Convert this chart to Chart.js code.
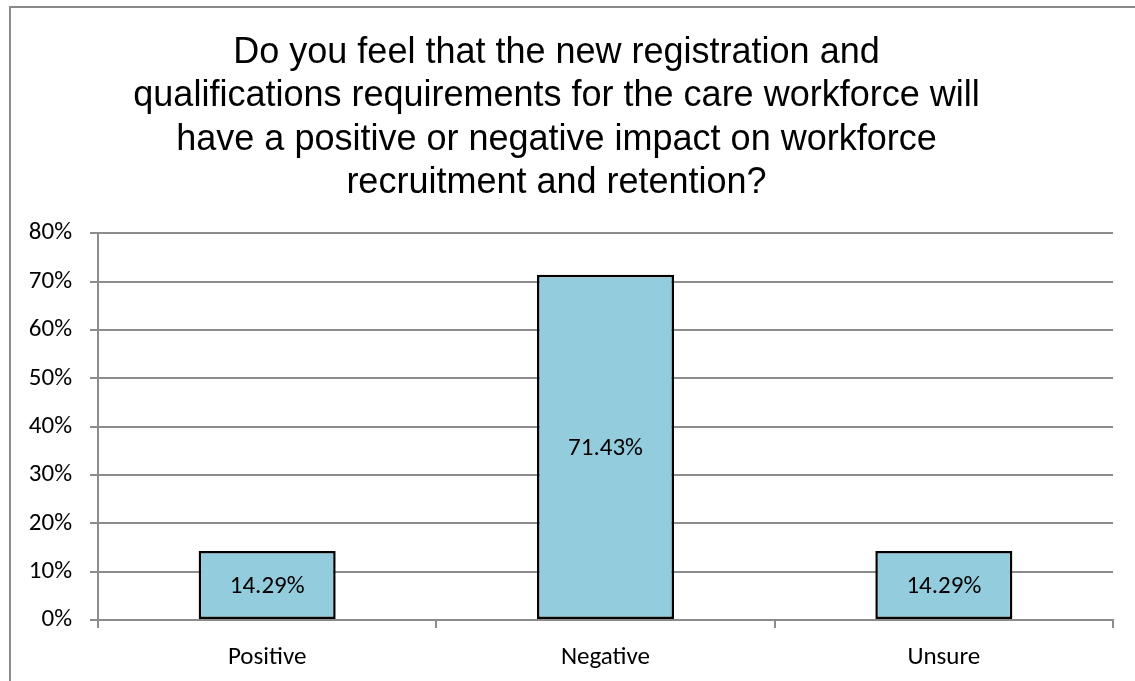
<!DOCTYPE html>
<html>
<head>
<meta charset="utf-8">
<style>
    html, body { margin: 0; padding: 0; background: #ffffff; overflow: hidden; }
    #wrap { position: relative; width: 1135px; height: 681px; }
</style>
<script src="https://cdn.jsdelivr.net/npm/chart.js@4/dist/chart.umd.min.js"></script>
</head>
<body>
<div id="wrap"><canvas id="surveyChart" width="1135" height="681"></canvas></div>
<script>
const titleLines = [
    'Do you feel that the new registration and',
    'qualifications requirements for the care workforce will',
    'have a positive or negative impact on workforce',
    'recruitment and retention?'
];
const categories = ['Positive', 'Negative', 'Unsure'];
const responseShares = [14.29, 71.43, 14.29];
const valueLabels = ['14.29%', '71.43%', '14.29%'];

const bodyFont = 'Carlito, Calibri, Lato, sans-serif';
const bodySize = 25;

// outer chart frame, like the office chart border
const framePlugin = {
    id: 'frame',
    beforeDraw: function (chart) {
        const ctx = chart.ctx;
        ctx.save();
        ctx.strokeStyle = '#8a8a8a';
        ctx.lineWidth = 2;
        ctx.strokeRect(10, 7, 1140, 700);
        ctx.restore();
    }
};

// value text in the middle of each bar
const barValuePlugin = {
    id: 'barValues',
    afterDatasetsDraw: function (chart) {
        const ctx = chart.ctx;
        const meta = chart.getDatasetMeta(0);
        ctx.save();
        ctx.fillStyle = '#000000';
        ctx.font = bodySize + 'px ' + bodyFont;
        ctx.textAlign = 'center';
        ctx.textBaseline = 'middle';
        meta.data.forEach(function (bar, i) {
            const props = bar.getProps(['x', 'y', 'base'], true);
            ctx.fillText(valueLabels[i], props.x, (props.y + props.base) / 2 + 2);
        });
        ctx.restore();
    }
};

new Chart(document.getElementById('surveyChart').getContext('2d'), {
    type: 'bar',
    data: {
        labels: categories,
        datasets: [
            {
                data: responseShares,
                backgroundColor: '#93cddd',
                borderColor: '#000000',
                borderWidth: 2.5,
                borderSkipped: false,
                barPercentage: 0.405,
                categoryPercentage: 1
            }
        ]
    },
    options: {
        responsive: false,
        animation: false,
        layout: {
            padding: { left: 0, right: 22, top: 0, bottom: 0 }
        },
        plugins: {
            legend: { display: false },
            tooltip: { enabled: false },
            title: {
                display: true,
                text: titleLines,
                color: '#000000',
                font: { family: '"Liberation Sans", Arial, sans-serif', size: 36, weight: 'normal', lineHeight: 1.21 },
                padding: { top: 31, bottom: 28 }
            }
        },
        scales: {
            x: {
                grid: {
                    offset: true,
                    drawOnChartArea: false,
                    drawTicks: true,
                    tickLength: 8,
                    color: '#8c8c8c',
                    lineWidth: 2
                },
                border: { color: '#8c8c8c', width: 2 },
                ticks: {
                    color: '#000000',
                    font: { family: bodyFont, size: bodySize },
                    padding: 15
                },
                afterFit: function (scale) {
                    scale.height = 61;
                }
            },
            y: {
                min: 0,
                max: 80,
                grid: {
                    color: '#8c8c8c',
                    lineWidth: 2,
                    tickLength: 8
                },
                border: { color: '#8c8c8c', width: 2 },
                ticks: {
                    stepSize: 10,
                    color: '#000000',
                    font: { family: bodyFont, size: bodySize },
                    padding: 18,
                    callback: function (value) {
                        return value + '%';
                    }
                },
                afterFit: function (scale) {
                    scale.width = 98;
                }
            }
        }
    },
    plugins: [framePlugin, barValuePlugin]
});
</script>
</body>
</html>
